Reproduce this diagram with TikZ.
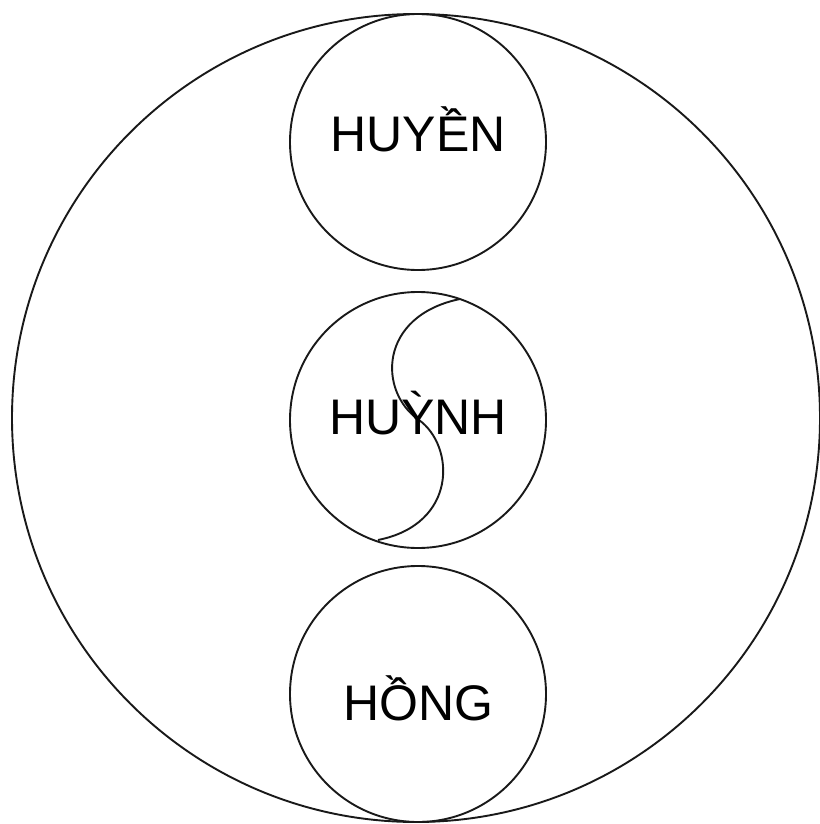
\documentclass[tikz,border=0pt]{standalone}
\usepackage{fontspec}
\setmainfont{Liberation Sans}
\begin{document}
\begin{tikzpicture}[x=1pt,y=-1pt,
  ring/.style={draw=black!90,line width=1.9pt},
  label/.style={font=\fontsize{50}{60}\selectfont,anchor=base,inner sep=0pt}]
\useasboundingbox (0,0) rectangle (819,824);
\draw[ring] (416,418) circle[radius=404];
\draw[ring] (418,142) circle[radius=128];
\draw[ring] (418,420) circle[radius=128];
\draw[ring] (418,694) circle[radius=128];
\coordinate (s1) at (460,299);
\coordinate (sm) at (419,420);
\coordinate (s2) at (378,540);
\draw[ring] (s1) .. controls (378,316) and (378,392) .. (sm)
               .. controls (455,446) and (458,524) .. (s2);
\node[label] (t1) at (418,151) {HUYỀN};
\node[label] (t2) at (418,434) {HUỲNH};
\node[label] (t3) at (418,720) {HỒNG};
\end{tikzpicture}
\end{document}
